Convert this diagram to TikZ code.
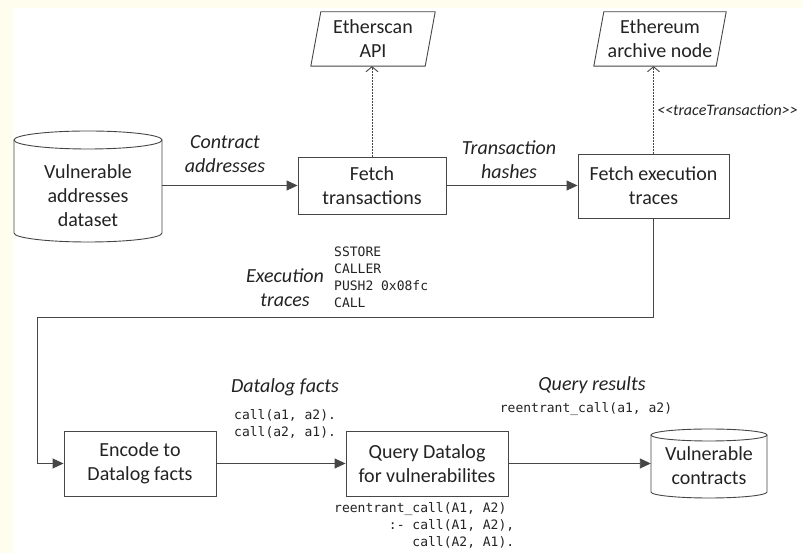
\documentclass[tikz,border=0pt]{standalone}
\usepackage{fontspec}
\setmainfont{Carlito}
\newfontfamily\codefont{DejaVu Sans Mono}
\usetikzlibrary{arrows.meta}
\definecolor{pagecream}{RGB}{255,253,238}
\definecolor{ink}{RGB}{35,35,35}
\definecolor{edge}{RGB}{70,70,70}

\begin{document}
\begin{tikzpicture}[x=1pt,y=1pt,
  every node/.style={text=ink},
  mainfont/.style={font=\fontsize{20}{24}\selectfont},
  holder/.style={mainfont, align=center, inner sep=0pt},
  procbox/.style={holder, draw=edge, line width=0.9pt},
  outline/.style={draw=edge, line width=0.9pt},
  flow/.style={draw=edge, line width=0.9pt, -{Triangle[length=11pt,width=10pt]}},
  query/.style={draw=edge, line width=1pt, dash pattern=on 1.6pt off 1.4pt,
    -{Straight Barb[length=5pt,width=12pt,line width=0.9pt]}},
  flowlabel/.style={font=\fontsize{20}{24}\selectfont\itshape, align=center, inner sep=0pt},
  code/.style={font=\codefont\fontsize{13}{17}\selectfont, align=left, inner sep=0pt}
]
\useasboundingbox (0,0) rectangle (802,553);
\fill[pagecream] (0,0) rectangle (802,553);
\fill[white] (13,0) rectangle (802,545);

% ---- input dataset (cylinder) ----
\node[holder, minimum width=148, minimum height=111] (vad) at (88,366.5) {};
\draw[outline] (14,413) -- (14,320) arc[start angle=180, end angle=360, x radius=74, y radius=9] -- (162,413);
\draw[outline] (88,413) ellipse[x radius=74, y radius=9];
\node[holder] (vadtext) at (88,357.5) {Vulnerable\\addresses\\dataset};

% ---- processing steps ----
\node[procbox, minimum width=148, minimum height=57] (ftx) at (372,367.5) {Fetch\\transactions};
\node[procbox, minimum width=151, minimum height=64] (fet) at (653.5,367) {Fetch execution\\traces};
\node[procbox, minimum width=152, minimum height=65] (enc) at (140,89.5) {Encode to\\Datalog facts};
\node[procbox, minimum width=162, minimum height=65] (qry) at (427,89.5) {Query Datalog\\for vulnerabilites};

% ---- external services (parallelograms) ----
\node[holder, minimum width=114, minimum height=54] (eth) at (373,514) {Etherscan\\API};
\draw[outline] ([xshift=-5pt]eth.south west) -- ([xshift=-5pt]eth.south east)
  -- ([xshift=5pt]eth.north east) -- ([xshift=5pt]eth.north west) -- cycle;
\node[holder, minimum width=122, minimum height=54] (arch) at (660,514) {Ethereum\\archive node};
\draw[outline] ([xshift=-5pt]arch.south west) -- ([xshift=-5pt]arch.south east)
  -- ([xshift=5pt]arch.north east) -- ([xshift=5pt]arch.north west) -- cycle;

% ---- output (cylinder) ----
\node[holder, minimum width=116, minimum height=69] (vc) at (709,89.5) {};
\draw[outline] (651,118) -- (651,61) arc[start angle=180, end angle=360, x radius=58, y radius=6] -- (767,118);
\draw[outline] (709,118) ellipse[x radius=58, y radius=6];
\node[holder] (vctext) at (709,87.5) {Vulnerable\\contracts};

% ---- connectors ----
\draw[flow] (vad.east |- ftx.west) -- (ftx.west);
\draw[flow] (ftx.east) -- (ftx.east -| fet.west);
\draw[query] (ftx.north) -- (ftx.north |- eth.south);
\draw[query] (fet.north) -- (fet.north |- arch.south);
\coordinate (loopcorner) at (37,236);
\draw[flow] (fet.south) |- (loopcorner) |- (enc.west);
\draw[flow] (enc.east) -- (enc.east -| qry.west);
\draw[flow] (qry.east) -- (qry.east -| vc.west);

% ---- connector labels ----
\node[flowlabel] (lcontract) at (225,399) {Contract\\addresses};
\node[flowlabel] (lhashes) at (509,393) {Transaction\\hashes};
\node[font=\fontsize{16}{19}\selectfont\itshape, anchor=west, inner sep=0pt] (ltrace) at (657,443)
  {<\kern0pt<traceTransaction>\kern0pt>};
\node[flowlabel] (lexec) at (285,265.5) {Execution\\traces};
\node[code, anchor=west] (opcodes) at (334,275.5) {SSTORE\\CALLER\\PUSH2 0x08fc\\CALL};
\node[flowlabel] (lfacts) at (285,166) {Datalog facts};
\node[code, anchor=west] (facts) at (234,129) {call(a1, a2).\\call(a2, a1).};
\node[flowlabel] (lresults) at (592,168) {Query results};
\node[code] (results) at (586,144) {reentrant\_call(a1, a2)};
\node[code, anchor=west] (rule) at (334,28)
  {reentrant\_call(A1, A2)\\\hphantom{0000000}:- call(A1, A2),\\\hphantom{0000000000}call(A2, A1).};
\end{tikzpicture}
\end{document}
